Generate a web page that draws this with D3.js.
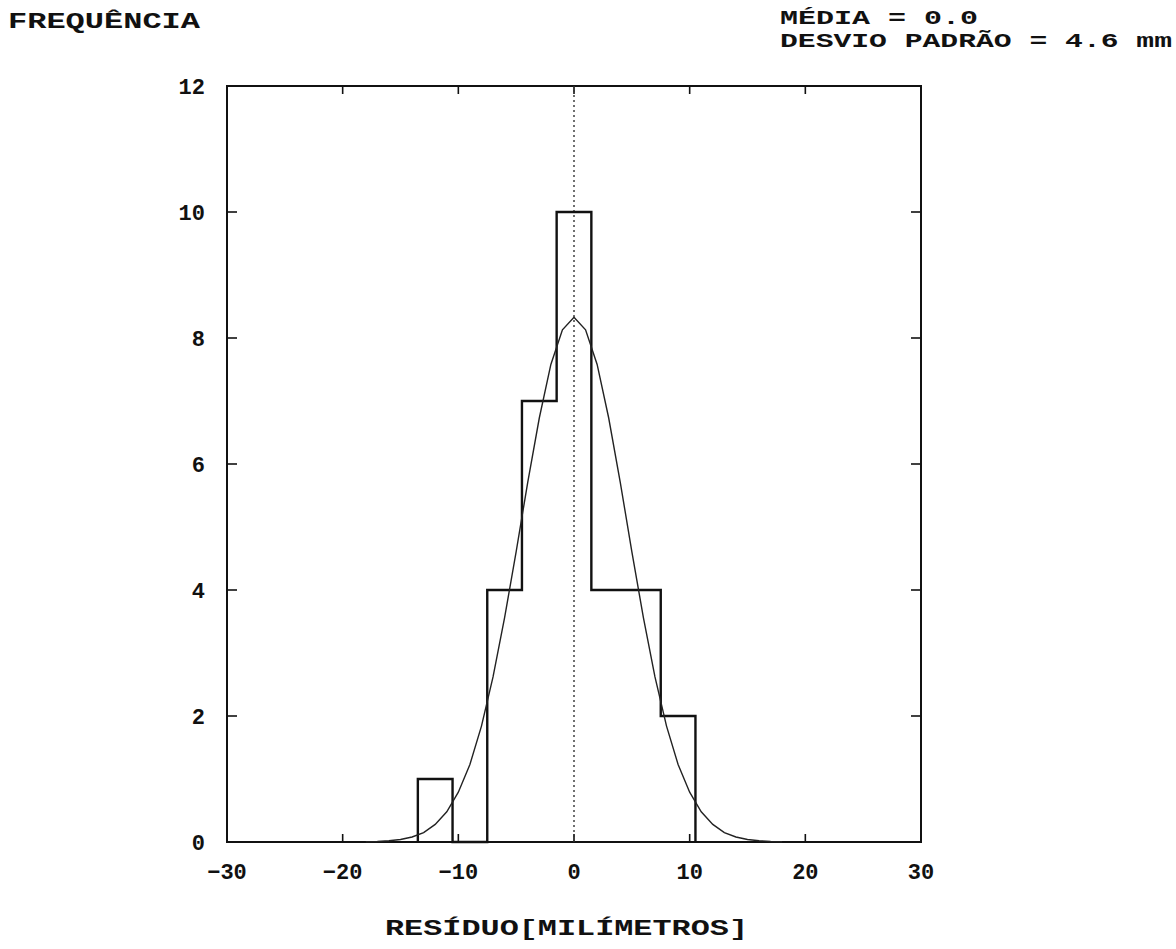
<!DOCTYPE html>
<html><head><meta charset="utf-8">
<script src="https://cdn.jsdelivr.net/npm/d3@7"></script>
<style>body{margin:0;background:#fff}svg text{font-family:"Liberation Mono","DejaVu Sans Mono",monospace;font-weight:bold;fill:#111}</style>
</head><body>
<svg id="c" width="1176" height="949"></svg>
<script>
// Data
const binStarts = [-13.5, -10.5, -7.5, -4.5, -1.5, 1.5, 4.5, 7.5];
const counts = [1, 0, 4, 7, 10, 4, 4, 2];
const binWidth = 3;
const curveX = [-18,-17,-16,-15,-14,-13,-12,-11,-10,-9,-8,-7,-6,-5,-4,-3,-2,-1,0,1,2,3,4,5,6,7,8,9,10,11,12,13,14,15,16,17,18];
const curveY = [0.004,0.009,0.02,0.04,0.08,0.15,0.28,0.48,0.79,1.23,1.84,2.62,3.56,4.61,5.71,6.73,7.58,8.13,8.33,8.13,7.58,6.73,5.71,4.61,3.56,2.62,1.84,1.23,0.79,0.48,0.28,0.15,0.08,0.04,0.02,0.009,0.004];
const xTicks = [-30,-20,-10,0,10,20,30];
const yTicks = [0,2,4,6,8,10,12];
const yLabel = "FREQUÊNCIA";
const xLabel = "RESÍDUO[MILÍMETROS]";
const stats = ["MÉDIA = 0.0", "DESVIO PADRÃO = 4.6 mm"];

const svg = d3.select("#c");
const x = d3.scaleLinear().domain([-30,30]).range([227,921]);
const y = d3.scaleLinear().domain([0,12]).range([842,86]);

// frame
svg.append("rect").attr("x",x(-30)).attr("y",y(12)).attr("width",x(30)-x(-30)).attr("height",y(0)-y(12))
  .attr("fill","none").attr("stroke","#111").attr("stroke-width",2);

// ticks
const inner = xTicks.filter(d=>d>-30&&d<30);
const innerY = yTicks.filter(d=>d>0&&d<12);
const tg = svg.append("g").attr("stroke","#111").attr("stroke-width",1.6);
inner.forEach(d=>{
  tg.append("line").attr("x1",x(d)).attr("x2",x(d)).attr("y1",y(0)).attr("y2",y(0)-8);
  tg.append("line").attr("x1",x(d)).attr("x2",x(d)).attr("y1",y(12)).attr("y2",y(12)+8);
});
innerY.forEach(d=>{
  tg.append("line").attr("x1",x(-30)).attr("x2",x(-30)+10).attr("y1",y(d)).attr("y2",y(d));
  tg.append("line").attr("x1",x(30)).attr("x2",x(30)-10).attr("y1",y(d)).attr("y2",y(d));
});

// tick labels
svg.append("g").selectAll("text").data(xTicks).join("text")
  .attr("x",d=>x(d)).attr("y",879).attr("text-anchor","middle").attr("font-size",22)
  .text(d=>d<0?"−"+Math.abs(d):d);
svg.append("g").selectAll("text").data(yTicks).join("text")
  .attr("x",205).attr("y",d=>y(d)+8).attr("text-anchor","end").attr("font-size",22)
  .text(d=>d);

// zero dotted line
svg.append("line").attr("x1",x(0)).attr("x2",x(0)).attr("y1",y(0)).attr("y2",y(12))
  .attr("stroke","#333").attr("stroke-width",1.4).attr("stroke-dasharray","2,3");

// histogram step outline
const pts = [];
binStarts.forEach((s,i)=>{ if(i===0) pts.push([s,0]); pts.push([s,counts[i]]); pts.push([s+binWidth,counts[i]]); });
pts.push([binStarts[binStarts.length-1]+binWidth,0]);
svg.append("path").attr("d",d3.line().x(d=>x(d[0])).y(d=>y(d[1]))(pts))
  .attr("fill","none").attr("stroke","#111").attr("stroke-width",2.4);

// normal curve
svg.append("path").attr("d",d3.line().x((d,i)=>x(curveX[i])).y(d=>y(d))(curveY))
  .attr("fill","none").attr("stroke","#222").attr("stroke-width",1.4);

// labels
svg.append("text").attr("x",8).attr("y",28).attr("font-size",22).attr("textLength",192).attr("lengthAdjust","spacingAndGlyphs").text(yLabel);
svg.append("text").attr("x",385).attr("y",935).attr("font-size",22).attr("textLength",363).attr("lengthAdjust","spacingAndGlyphs").text(xLabel);
svg.append("text").attr("x",780).attr("y",24).attr("font-size",20).attr("textLength",198).attr("lengthAdjust","spacingAndGlyphs").text(stats[0]);
svg.append("text").attr("x",780).attr("y",47).attr("font-size",20).attr("textLength",392).attr("lengthAdjust","spacingAndGlyphs").text(stats[1]);
</script>
</body></html>
